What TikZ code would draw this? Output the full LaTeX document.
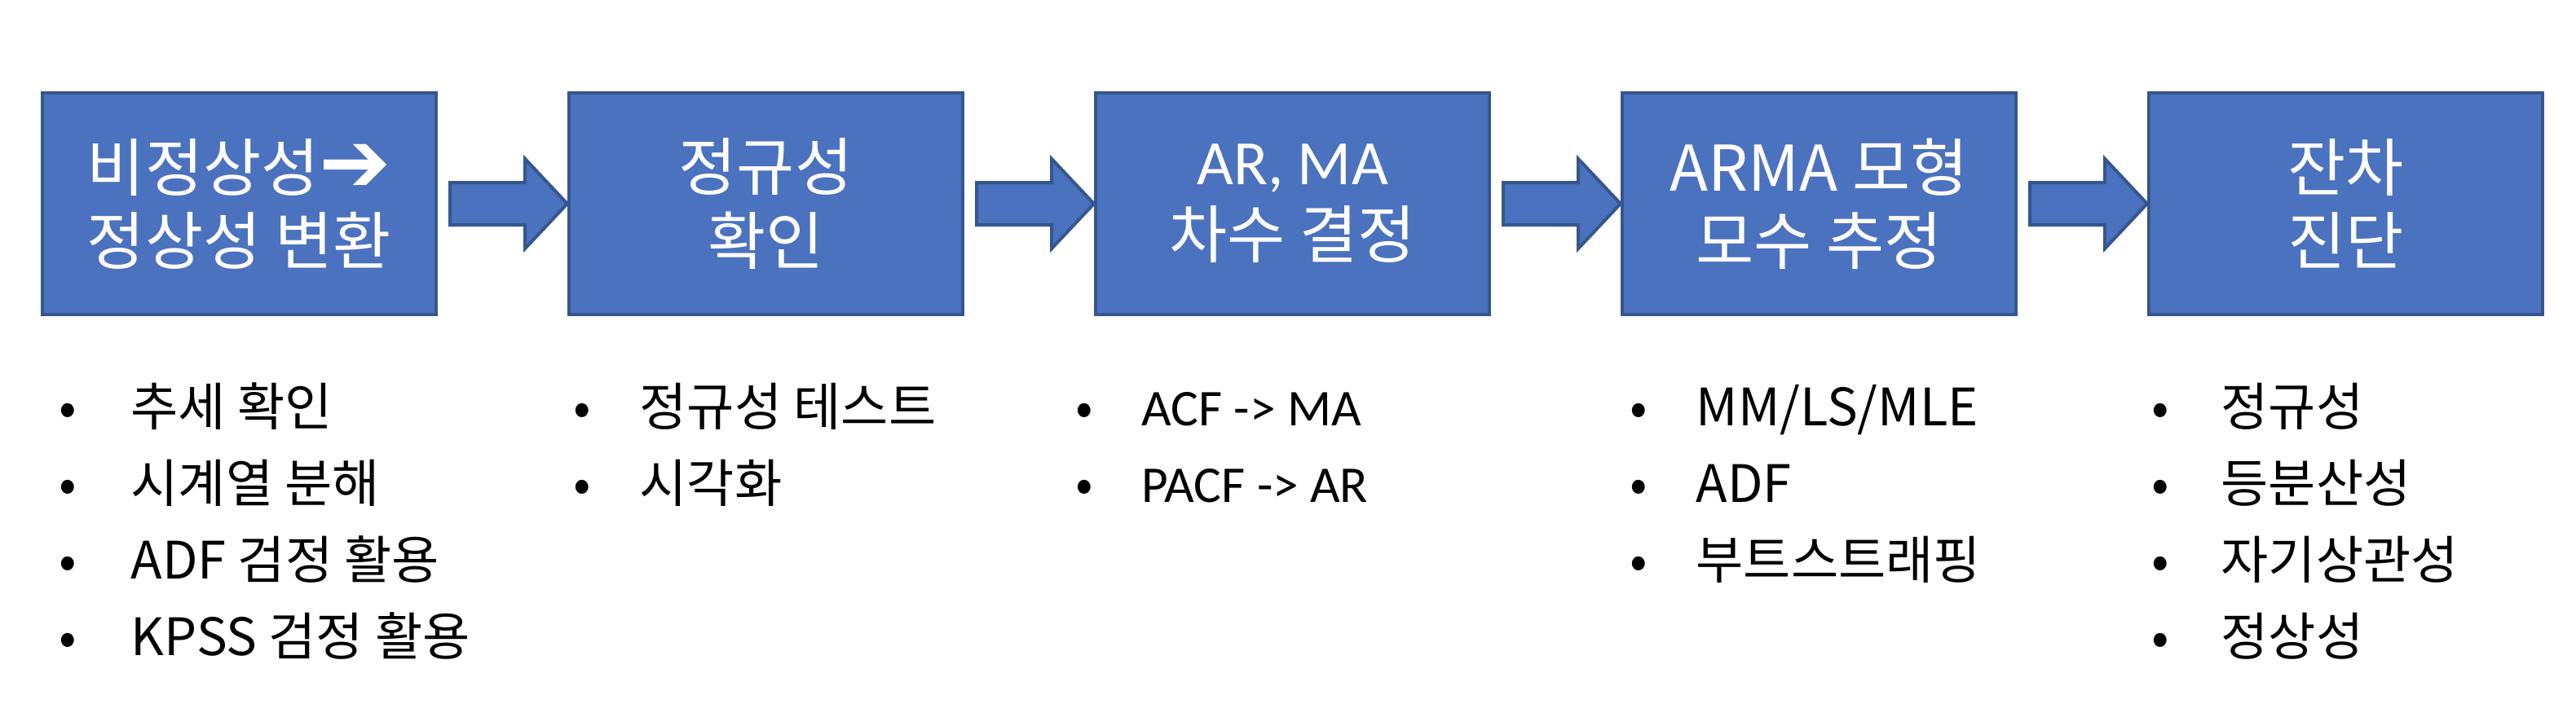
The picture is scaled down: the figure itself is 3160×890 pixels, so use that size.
\documentclass[tikz,border=0pt]{standalone}
\usepackage{fontspec}
\setmainfont{Noto Sans CJK KR}
\newfontfamily\calib{Carlito}
\newfontfamily\symfont{DejaVu Sans}
\usetikzlibrary{calc}
\definecolor{boxfill}{HTML}{4A72BE}
\definecolor{boxline}{HTML}{35568F}
\begin{document}
\begin{tikzpicture}[x=0.01cm,y=-0.01cm,
  stepbox/.style={draw=boxline, fill=boxfill, line width=0.04cm, minimum width=4.83cm, minimum height=2.72cm,
    text=white, align=center, font=\fontsize{22}{25.6}\selectfont, inner sep=0pt},
  barrow/.style={draw=boxline, fill=boxfill, line width=0.04cm, line join=miter},
  bul/.style={anchor=base, font=\fontsize{18}{20}\selectfont, inner sep=0pt},
  itemtext/.style={anchor=base west, font=\fontsize{18}{20}\selectfont, inner sep=0pt}]
\useasboundingbox (0,0) rectangle (3160,890);

% boxes
\node[stepbox] (b1) at (293.5,250) {비정상성\smash{\raisebox{-0.5pt}{\symfont\fontsize{30}{25.6}\selectfont ➔}}\\정상성 변환};
\node[stepbox] (b2) at (939.5,250) {정규성\\확인};
\node[stepbox] (b3) at (1585.5,250) {{\calib AR, MA}\\차수 결정};
\node[stepbox] (b4) at (2231.5,250) {ARMA 모형\\모수 추정};
\node[stepbox] (b5) at (2877.5,250) {잔차\\진단};

% block arrows
\foreach \a/\b in {b1/b2,b2/b3,b3/b4,b4/b5}{
  \draw[barrow] ($(\a.east)+(15,-26)$) -- ($(\a.east)+(107,-26)$) -- ($(\a.east)+(107,-55)$)
    -- (\b.west) -- ($(\a.east)+(107,55)$) -- ($(\a.east)+(107,26)$) -- ($(\a.east)+(15,26)$) -- cycle;
}

% list 1
\node[bul] (l1d1) at (83,522) {•}; \node[itemtext] (l1t1) at (160,522) {추세 확인};
\node[bul] (l1d2) at (83,616) {•}; \node[itemtext] (l1t2) at (160,616) {시계열 분해};
\node[bul] (l1d3) at (83,710) {•}; \node[itemtext] (l1t3) at (160,710) {ADF 검정 활용};
\node[bul] (l1d4) at (83,804) {•}; \node[itemtext] (l1t4) at (160,804) {KPSS 검정 활용};

% list 2
\node[bul] (l2d1) at (714,522) {•}; \node[itemtext] (l2t1) at (784,522) {정규성 테스트};
\node[bul] (l2d2) at (714,616) {•}; \node[itemtext] (l2t2) at (784,616) {시각화};

% list 3
\node[bul] (l3d1) at (1330,522) {•}; \node[itemtext] (l3t1) at (1400,522) {\calib ACF -> MA};
\node[bul] (l3d2) at (1330,616) {•}; \node[itemtext] (l3t2) at (1400,616) {\calib PACF -> AR};

% list 4
\node[bul] (l4d1) at (2010,522) {•}; \node[itemtext] (l4t1) at (2080,522) {MM/LS/MLE};
\node[bul] (l4d2) at (2010,616) {•}; \node[itemtext] (l4t2) at (2080,616) {ADF};
\node[bul] (l4d3) at (2010,710) {•}; \node[itemtext] (l4t3) at (2080,710) {부트스트래핑};

% list 5
\node[bul] (l5d1) at (2650,522) {•}; \node[itemtext] (l5t1) at (2724,522) {정규성};
\node[bul] (l5d2) at (2650,616) {•}; \node[itemtext] (l5t2) at (2724,616) {등분산성};
\node[bul] (l5d3) at (2650,710) {•}; \node[itemtext] (l5t3) at (2724,710) {자기상관성};
\node[bul] (l5d4) at (2650,804) {•}; \node[itemtext] (l5t4) at (2724,804) {정상성};
\end{tikzpicture}
\end{document}
